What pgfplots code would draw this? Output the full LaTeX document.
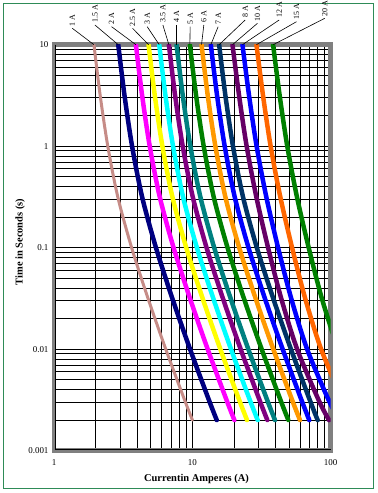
\documentclass[border=0pt]{standalone}
\usepackage{fontspec}
\setmainfont{Liberation Serif}
\usepackage{pgfplots}
\pgfplotsset{compat=1.18}
\definecolor{cA}{RGB}{198,140,135}
\definecolor{cB}{RGB}{0,0,128}
\definecolor{cC}{RGB}{255,0,255}
\definecolor{cD}{RGB}{255,255,0}
\definecolor{cE}{RGB}{0,255,255}
\definecolor{cF}{RGB}{128,0,128}
\definecolor{cG}{RGB}{0,128,128}
\definecolor{cH}{RGB}{0,128,0}
\definecolor{cI}{RGB}{255,153,0}
\definecolor{cJ}{RGB}{0,0,255}
\definecolor{cK}{RGB}{0,51,102}
\definecolor{cL}{RGB}{102,0,102}
\definecolor{cM}{RGB}{0,0,255}
\definecolor{cN}{RGB}{255,102,0}
\definecolor{cO}{RGB}{0,128,0}
\definecolor{frame}{RGB}{46,139,87}
\newcommand{\lbl}{\fontsize{8}{9}\selectfont}
\begin{document}
\begin{tikzpicture}
\useasboundingbox (-54bp,-42.3bp) rectangle (324bp,450.7bp);
\draw[frame, line width=0.8bp] (-51bp,-37.3bp) rectangle (319bp,447.7bp);
\begin{axis}[at={(0,0)}, anchor=south west, scale only axis,
  width=276.7bp, height=406bp,
  xmode=log, ymode=log, xmin=1, xmax=100, ymin=0.001, ymax=10,
  xtick={1,10,100}, xticklabels={1,10,100},
  ytick={0.001,0.01,0.1,1,10}, yticklabels={0.001,0.01,0.1,1,10},
  minor xtick={2,3,4,5,6,7,8,9,20,30,40,50,60,70,80,90},
  minor ytick={0.002,0.003,0.004,0.005,0.006,0.007,0.008,0.009,0.02,0.03,0.04,0.05,0.06,0.07,0.08,0.09,0.2,0.3,0.4,0.5,0.6,0.7,0.8,0.9,2,3,4,5,6,7,8,9},
  grid=both,
  major grid style={black, line width=0.7bp},
  minor grid style={black, line width=0.7bp},
  major tick length=0pt, minor tick length=0pt,
  axis line style={draw=gray, line width=4.5bp},
  ticklabel style={font=\fontsize{9}{10}\selectfont},
  xticklabel style={yshift=-5bp},
  yticklabel style={xshift=-2bp},
  xlabel={\textbf{Currentin Amperes (A)}},
  ylabel={\textbf{Time in Seconds (s)}},
  every axis x label/.style={at={(axis description cs:0.515,0)}, anchor=center, yshift=-28.6bp, font=\fontsize{10.5}{12}\selectfont},
  every axis y label/.style={at={(axis description cs:0,0.514)}, xshift=-34bp, rotate=90, anchor=center, font=\fontsize{10.5}{12}\selectfont},
  clip mode=individual,
  every axis plot/.append style={smooth, line cap=round, line width=4.5bp, no markers},
]
% 1 A
\addplot[cA, line width=3bp] coordinates {(1.944,10) (2.157,3.162) (2.448,1) (2.892,0.3162) (3.641,0.1) (4.784,0.03162) (6.425,0.01) (8.786,0.003162) (10.02,0.002)};
% 1.5 A
\addplot[cB] coordinates {(2.913,10) (3.233,3.162) (3.668,1) (4.335,0.3162) (5.458,0.1) (7.169,0.03162) (9.627,0.01) (13.17,0.003162) (15.01,0.002)};
% 2 A
\addplot[cC] coordinates {(3.908,10) (4.335,3.162) (4.920,1) (5.814,0.3162) (7.319,0.1) (9.616,0.03162) (12.91,0.01) (17.66,0.003162) (20.14,0.002)};
% 2.5 A
\addplot[cD] coordinates {(4.825,10) (5.352,3.162) (6.074,1) (7.178,0.3162) (9.036,0.1) (11.87,0.03162) (15.94,0.01) (21.81,0.003162) (24.86,0.002)};
% 3 A
\addplot[cE] coordinates {(5.762,10) (6.391,3.162) (7.253,1) (8.570,0.3162) (10.79,0.1) (14.18,0.03162) (19.03,0.01) (26.03,0.003162) (29.69,0.002)};
% 3.5 A
\addplot[cF] coordinates {(6.767,10) (7.504,3.162) (8.517,1) (10.07,0.3162) (12.67,0.1) (16.64,0.03162) (22.35,0.01) (30.57,0.003162) (34.86,0.002)};
% 4 A
\addplot[cG] coordinates {(7.688,10) (8.524,3.162) (9.676,1) (11.43,0.3162) (14.39,0.1) (18.91,0.03162) (25.39,0.01) (34.73,0.003162) (39.60,0.002)};
% 5 A
\addplot[cH] coordinates {(9.594,10) (10.64,3.162) (12.08,1) (14.27,0.3162) (17.97,0.1) (23.60,0.03162) (31.70,0.01) (43.35,0.003162) (49.43,0.002)};
% 6 A
\addplot[cI] coordinates {(11.65,10) (12.92,3.162) (14.67,1) (17.33,0.3162) (21.82,0.1) (28.66,0.03162) (38.47,0.01) (52.61,0.003162) (60.00,0.002)};
% 7 A
\addplot[cJ] coordinates {(13.60,10) (15.09,3.162) (17.13,1) (20.24,0.3162) (25.47,0.1) (33.46,0.03162) (44.95,0.01) (61.46,0.003162) (70.07,0.002)};
% 8 A
\addplot[cK] coordinates {(15.62,10) (17.33,3.162) (19.67,1) (23.24,0.3162) (29.26,0.1) (38.43,0.03162) (51.60,0.01) (70.58,0.003162) (80.50,0.002)};
% 10 A
\addplot[cL] coordinates {(19.50,10) (21.76,3.162) (24.69,1) (29.01,0.3162) (35.28,0.1) (43.90,0.03162) (57.22,0.01) (81.75,0.003162) (97.27,0.002)};
% 12 A
\addplot[cM] coordinates {(23.02,10) (25.69,3.162) (29.15,1) (34.25,0.3162) (41.66,0.1) (51.84,0.03162) (67.55,0.01) (96.54,0.003162) (114.9,0.002)};
% 15 A
\addplot[cN] coordinates {(29.06,10) (32.42,3.162) (36.80,1) (43.23,0.3162) (52.59,0.1) (65.43,0.03162) (85.26,0.01) (121.8,0.003162)};
% 20 A
\addplot[cO] coordinates {(38.33,10) (42.76,3.162) (48.54,1) (57.03,0.3162) (69.36,0.1) (86.31,0.03162) (112.5,0.01)};

\begin{scope}[black, line width=0.6bp, every node/.style={rotate=90, anchor=west, inner sep=2bp, font=\lbl}]
\draw (axis cs:1.944,10) -- ++(-21.6bp,16.4bp) node {1 A};
\draw (axis cs:2.913,10) -- ++(-23.3bp,19.7bp) node {1.5 A};
\draw (axis cs:3.908,10) -- ++(-24.3bp,18bp) node {2 A};
\draw (axis cs:4.825,10) -- ++(-16bp,16.4bp) node {2.5 A};
\draw (axis cs:5.762,10) -- ++(-12bp,18bp) node {3 A};
\draw (axis cs:6.767,10) -- ++(-6bp,19.7bp) node {3.5 A};
\draw (axis cs:7.688,10) -- ++(0bp,19.7bp) node {4 A};
\draw (axis cs:9.594,10) -- ++(0.3bp,18bp) node {5 A};
\draw (axis cs:11.65,10) -- ++(2.3bp,19.7bp) node {6 A};
\draw (axis cs:13.60,10) -- ++(7.3bp,18bp) node {7 A};
\draw (axis cs:15.62,10) -- ++(26bp,24.7bp) node {8 A};
\draw (axis cs:19.50,10) -- ++(25bp,21.4bp) node {10 A};
\draw (axis cs:23.02,10) -- ++(36.7bp,24.7bp) node {12 A};
\draw (axis cs:29.06,10) -- ++(40bp,23bp) node {15 A};
\draw (axis cs:38.33,10) -- ++(51.7bp,26.4bp) node {20 A};
\end{scope}
\end{axis}
\draw[black, line width=0.8bp] (1.2bp,406bp) -- (1.2bp,1.2bp) -- (276.7bp,1.2bp);
\end{tikzpicture}
\end{document}
